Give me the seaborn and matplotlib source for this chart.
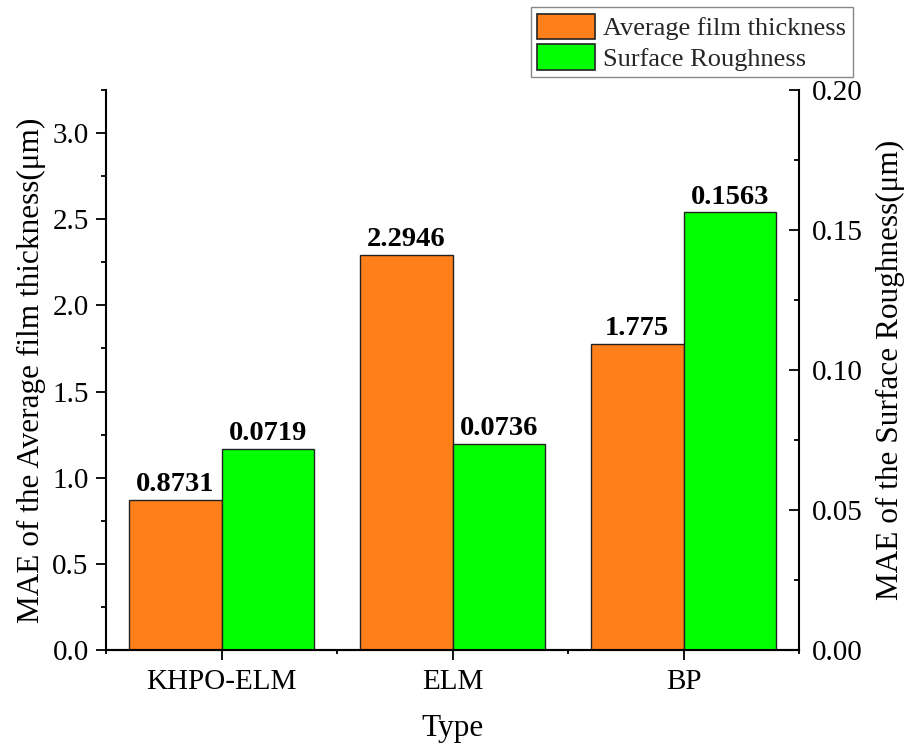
import matplotlib
matplotlib.use("Agg")
import matplotlib.pyplot as plt
from matplotlib.patches import Patch
from matplotlib.ticker import MultipleLocator, FixedLocator, FormatStrFormatter
import pandas as pd
import seaborn as sns

# ---- data ----
types = ["KHPO-ELM", "ELM", "BP"]
film_thickness_mae = [0.8731, 2.2946, 1.775]
surface_roughness_mae = [0.0719, 0.0736, 0.1563]
film_labels = ["0.8731", "2.2946", "1.775"]
rough_labels = ["0.0719", "0.0736", "0.1563"]
series_names = ["Average film thickness", "Surface Roughness"]
series_colors = ["#FF801A", "#00FF00"]

df_film = pd.DataFrame({"Type": types, "MAE": film_thickness_mae, "Series": series_names[0]})
df_rough = pd.DataFrame({"Type": types, "MAE": surface_roughness_mae, "Series": series_names[1]})
palette = dict(zip(series_names, series_colors))

sns.set_theme(style="ticks")
plt.rcParams["font.family"] = ["Liberation Serif", "DejaVu Serif"]

fig = plt.figure(figsize=(9.08, 7.51), dpi=100)
ax = fig.add_axes([106 / 908, 1 - 650 / 751, 693 / 908, 560 / 751])
ax2 = ax.twinx()

edge = "#222222"
common = dict(x="Type", y="MAE", hue="Series", hue_order=series_names, order=types,
              palette=palette, saturation=1, edgecolor=edge, linewidth=1.0,
              errorbar=None, legend=False, width=0.8, dodge=True)
sns.barplot(data=df_film, ax=ax, **common)
sns.barplot(data=df_rough, ax=ax2, **common)


def label_bars(axis, labels):
    bars = sorted(axis.patches, key=lambda p: p.get_x())
    for p, lab in zip(bars, labels):
        axis.annotate(lab, (p.get_x() + p.get_width() / 2, p.get_height()),
                      xytext=(0, 2), textcoords="offset points",
                      ha="center", va="bottom", fontsize=20.5, fontweight="bold",
                      color="black")


label_bars(ax, film_labels)
label_bars(ax2, rough_labels)

# ---- axes limits and ticks ----
ax.set_xlim(-0.5, 2.5)
ax.set_ylim(0, 3.25)
ax2.set_ylim(0, 0.20)

ax.yaxis.set_major_locator(MultipleLocator(0.5))
ax.yaxis.set_minor_locator(MultipleLocator(0.25))
ax.yaxis.set_major_formatter(FormatStrFormatter("%.1f"))
ax.xaxis.set_minor_locator(FixedLocator([-0.5, 0.5, 1.5, 2.5]))

ax2.yaxis.set_major_locator(MultipleLocator(0.05))
ax2.yaxis.set_minor_locator(MultipleLocator(0.025))
ax2.yaxis.set_major_formatter(FormatStrFormatter("%.2f"))

ax.tick_params(axis="y", which="major", direction="out", length=7.5, width=1.3,
               labelsize=21, pad=5, colors="black")
ax.tick_params(axis="y", which="minor", direction="out", length=3.8, width=1.3, colors="black")
ax.tick_params(axis="x", which="major", direction="out", length=7.5, width=1.3,
               labelsize=21, pad=6, colors="black")
ax.tick_params(axis="x", which="minor", direction="out", length=3.2, width=1.3, colors="black")
ax2.tick_params(axis="y", which="major", direction="in", length=7, width=1.3,
                labelsize=21, pad=9, colors="black")
ax2.tick_params(axis="y", which="minor", direction="in", length=3.8, width=1.3, colors="black")

for a in (ax, ax2):
    a.spines["top"].set_visible(False)
    for s in ("left", "right", "bottom"):
        a.spines[s].set_color("black")
        a.spines[s].set_linewidth(1.5)
ax2.spines["left"].set_visible(False)
ax.spines["right"].set_visible(False)

# ---- labels ----
ax.set_xlabel("Type", fontsize=22.5, color="black")
ax.set_ylabel("MAE of the Average film thickness(μm)", fontsize=22.5, color="black")
ax2.set_ylabel("MAE of the Surface Roughness(μm)", fontsize=22.5, color="black")
ax.xaxis.set_label_coords(0.5, -0.114)
ax.yaxis.set_label_coords(-0.086, 0.5)
ax2.yaxis.set_label_coords(1.111, 0.5)

# ---- legend ----
handles = [Patch(facecolor=c, edgecolor=edge, linewidth=1.2, label=n)
           for n, c in zip(series_names, series_colors)]
leg = fig.legend(handles=handles, loc="upper right",
                 bbox_to_anchor=(853 / 908, 1 - 7 / 751), fontsize=19,
                 frameon=True, fancybox=False, edgecolor="#888888", framealpha=1,
                 handlelength=2.2, handleheight=1.1, handletextpad=0.3,
                 borderpad=0.25, labelspacing=0.15, borderaxespad=0)
leg.get_frame().set_linewidth(1.0)

fig.savefig("out.png", dpi=100)
